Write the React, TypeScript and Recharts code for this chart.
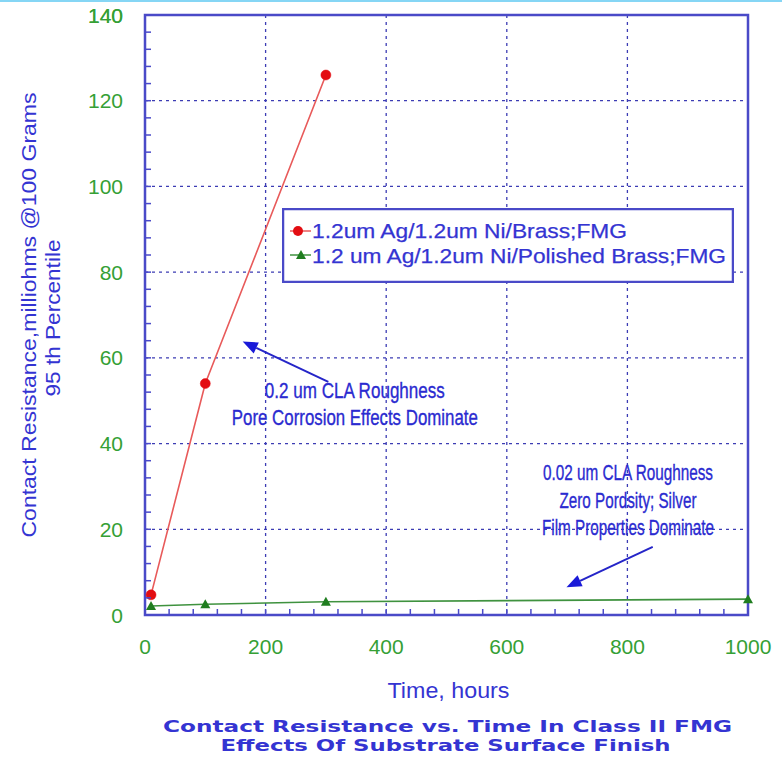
import React from 'react';
import {
  LineChart,
  Line,
  XAxis,
  YAxis,
  CartesianGrid,
  ReferenceArea,
  ReferenceLine,
  ReferenceDot,
  Legend,
} from 'recharts';

// values
const brassHours = [10, 100, 300];
const brassValues = [4.7, 54, 126];
const polishedHours = [10, 100, 300, 1000];
const polishedValues = [2.1, 2.5, 3.1, 3.7];

const seriesNames = ['1.2um Ag/1.2um Ni/Brass;FMG', '1.2 um Ag/1.2um Ni/Polished Brass;FMG'];
const xGridValues = [200, 400, 600, 800];
const yGridValues = [20, 40, 60, 80, 100, 120];
const xMinorTicks = Array.from({ length: 26 }, (_, i) => i * 40);
const yMinorTicks = Array.from({ length: 36 }, (_, i) => i * 4);

const yTitle = ['Contact Resistance,milliohms @100 Grams', '95 th Percentile'];
const xTitle = 'Time, hours';
const chartTitle = ['Contact Resistance vs. Time In Class II FMG', 'Effects Of Substrate Surface Finish'];
const noteRough = ['0.2 um CLA Roughness', 'Pore Corrosion Effects Dominate'];
const noteSmooth = ['0.02 um CLA Roughness', 'Zero Pordsity; Silver', 'Film Properties Dominate'];

const brassData = brassHours.map((h, i) => ({ hours: h, value: brassValues[i] }));
const polishedData = polishedHours.map((h, i) => ({ hours: h, value: polishedValues[i] }));

const FRAME = '#4a4ac8';
const GRID = '#3c3cb4';
const BLUE_TEXT = '#3434d2';
const NOTE_TEXT = '#2a2ad0';
const GREEN_TEXT = '#35a035';
const RED_LINE = '#e85a5a';
const RED_DOT = '#e30d12';
const GREEN_LINE = '#3f923f';
const GREEN_DOT = '#1f7d1f';
const SANS = '"Liberation Sans", Arial, Helvetica, sans-serif';
const NARROW = '"Liberation Sans Narrow", "Arial Narrow", "Liberation Sans", Arial, sans-serif';
const WIDE = '"DejaVu Sans", Verdana, sans-serif';

function YTick(props: any) {
  const { x, y, payload } = props;
  const ax = x + 8;
  const major = payload.value % 20 === 0;
  return (
    <g>
      <line x1={ax} x2={ax + 6} y1={y} y2={y} stroke={FRAME} strokeWidth={1.5} />
      {major && (
        <text x={ax - 22} y={y} dy="0.36em" textAnchor="end" fill={GREEN_TEXT} fontSize={21} fontFamily={SANS}>
          {payload.value}
        </text>
      )}
    </g>
  );
}

function XTick(props: any) {
  const { x, y, payload } = props;
  const ay = y - 8;
  const major = payload.value % 200 === 0;
  return (
    <g>
      <line x1={x} x2={x} y1={ay} y2={ay - 6} stroke={FRAME} strokeWidth={1.5} />
      {major && (
        <text x={x} y={ay + 39} textAnchor="middle" fill={GREEN_TEXT} fontSize={21} fontFamily={SANS}>
          {payload.value}
        </text>
      )}
    </g>
  );
}

function YTitle(props: any) {
  const { viewBox } = props;
  const cy = viewBox.y + viewBox.height / 2;
  const x1 = viewBox.x - 49;
  const x2 = viewBox.x - 25;
  return (
    <g fill={BLUE_TEXT} fontFamily={SANS} fontSize={21}>
      <text x={x1} y={cy} textAnchor="middle" transform={`rotate(-90 ${x1} ${cy})`} textLength={445} lengthAdjust="spacingAndGlyphs">
        {yTitle[0]}
      </text>
      <text x={x2} y={cy + 3} textAnchor="middle" transform={`rotate(-90 ${x2} ${cy + 3})`} textLength={157} lengthAdjust="spacingAndGlyphs">
        {yTitle[1]}
      </text>
    </g>
  );
}

function XTitle(props: any) {
  const { viewBox } = props;
  const cx = viewBox.x + viewBox.width / 2;
  const top = viewBox.y;
  return (
    <g fill={BLUE_TEXT}>
      <text x={cx + 2} y={top + 83} textAnchor="middle" fontSize={22} fontFamily={NARROW} textLength={122} lengthAdjust="spacingAndGlyphs">
        {xTitle}
      </text>
      <text x={cx + 1} y={top + 117} textAnchor="middle" fontSize={16} fontWeight="bold" fontFamily={WIDE} textLength={569} lengthAdjust="spacingAndGlyphs">
        {chartTitle[0]}
      </text>
      <text x={cx - 1} y={top + 136} textAnchor="middle" fontSize={16} fontWeight="bold" fontFamily={WIDE} textLength={450} lengthAdjust="spacingAndGlyphs">
        {chartTitle[1]}
      </text>
    </g>
  );
}

function Arrow(props: any) {
  const { x1, y1, x2, y2 } = props;
  const ang = Math.atan2(y2 - y1, x2 - x1);
  const len = 15;
  const half = 6;
  const bx = x2 - len * Math.cos(ang);
  const by = y2 - len * Math.sin(ang);
  const px = -Math.sin(ang) * half;
  const py = Math.cos(ang) * half;
  return (
    <g>
      <line x1={x1} y1={y1} x2={bx} y2={by} stroke="#2525c8" strokeWidth={2} />
      <polygon points={`${x2},${y2} ${bx + px},${by + py} ${bx - px},${by - py}`} fill="#1a1ad8" />
    </g>
  );
}

function noteShape(lines: string[], widths: number[], offsets: number[]) {
  return (props: any) => {
    const { cx, cy } = props;
    return (
      <g fill={NOTE_TEXT} stroke={NOTE_TEXT} strokeWidth={0.35} fontFamily={NARROW} fontSize={22}>
        {lines.map((t, i) => (
          <text
            key={t}
            x={cx}
            y={cy + offsets[i] + 8}
            textAnchor="middle"
            textLength={widths[i]}
            lengthAdjust="spacingAndGlyphs"
          >
            {t}
          </text>
        ))}
      </g>
    );
  };
}

function Triangle(props: any) {
  const { cx, cy } = props;
  if (cx == null || cy == null) return null;
  return <polygon points={`${cx},${cy - 5} ${cx - 5},${cy + 4} ${cx + 5},${cy + 4}`} fill={GREEN_DOT} />;
}

function LegendBox() {
  return (
    <svg width={452} height={75}>
      <rect x={1} y={1} width={450} height={73} fill="#fff" stroke={FRAME} strokeWidth={2.5} />
      <line x1={8} x2={29} y1={23} y2={23} stroke={RED_LINE} strokeWidth={1.5} />
      <circle cx={16} cy={23} r={5} fill={RED_DOT} />
      <line x1={8} x2={29} y1={47} y2={47} stroke={GREEN_LINE} strokeWidth={1.5} />
      <polygon points="19,42 14,51 24,51" fill={GREEN_DOT} />
      <g fill={BLUE_TEXT} stroke={BLUE_TEXT} strokeWidth={0.25} fontFamily={SANS} fontSize={21}>
        <text x={30} y={30} textLength={315} lengthAdjust="spacingAndGlyphs">{seriesNames[0]}</text>
        <text x={30} y={55} textLength={414} lengthAdjust="spacingAndGlyphs">{seriesNames[1]}</text>
      </g>
    </svg>
  );
}

export default function App() {
  return (
    <div style={{ position: 'absolute', left: 0, top: 0, width: 782, height: 757, background: '#fff' }}>
      <div style={{ position: 'absolute', left: 0, top: 0, width: 782, height: 2, background: '#86d6f5', zIndex: 2 }} />
      <LineChart width={782} height={757} margin={{ top: 15, right: 34, bottom: 112, left: 85 }}>
        <CartesianGrid
          stroke={GRID}
          strokeDasharray="3 4"
          strokeWidth={1.3}
          horizontalValues={yGridValues}
          verticalValues={xGridValues}
        />
        <XAxis
          dataKey="hours"
          type="number"
          domain={[0, 1000]}
          ticks={xMinorTicks}
          interval={0}
          height={30}
          axisLine={false}
          tickLine={false}
          tickSize={0}
          tickMargin={8}
          tick={<XTick />}
          label={<XTitle />}
          allowDuplicatedCategory={false}
        />
        <YAxis
          type="number"
          domain={[0, 140]}
          ticks={yMinorTicks.concat([140])}
          interval={0}
          width={60}
          axisLine={false}
          tickLine={false}
          tickSize={0}
          tickMargin={8}
          tick={<YTick />}
          label={<YTitle />}
        />
        <ReferenceArea x1={0} x2={1000} y1={0} y2={140} fill="none" stroke={FRAME} strokeWidth={2.5} />
        <ReferenceLine segment={[{ x: 304, y: 54.4 }, { x: 162, y: 63.8 }]} shape={Arrow} ifOverflow="visible" />
        <ReferenceLine segment={[{ x: 842, y: 15.9 }, { x: 699, y: 6.5 }]} shape={Arrow} ifOverflow="visible" />
        <ReferenceDot
          x={348}
          y={49.3}
          r={0}
          ifOverflow="visible"
          shape={noteShape(noteRough, [180, 246], [-13.5, 13.5])}
        />
        <ReferenceDot
          x={801}
          y={26.8}
          r={0}
          ifOverflow="visible"
          shape={noteShape(noteSmooth, [170, 137, 172], [-28, 0, 27])}
        />
        <Line
          data={polishedData}
          dataKey="value"
          name={seriesNames[1]}
          stroke={GREEN_LINE}
          strokeWidth={1.6}
          dot={<Triangle />}
          isAnimationActive={false}
        />
        <Line
          data={brassData}
          dataKey="value"
          name={seriesNames[0]}
          stroke={RED_LINE}
          strokeWidth={1.6}
          dot={{ r: 5, fill: RED_DOT, stroke: RED_DOT, strokeWidth: 0.5 }}
          isAnimationActive={false}
        />
        <Legend
          layout="vertical"
          align="center"
          verticalAlign="middle"
          content={<LegendBox />}
          wrapperStyle={{ left: 282, top: 208, width: 452, height: 75 }}
        />
      </LineChart>
    </div>
  );
}
